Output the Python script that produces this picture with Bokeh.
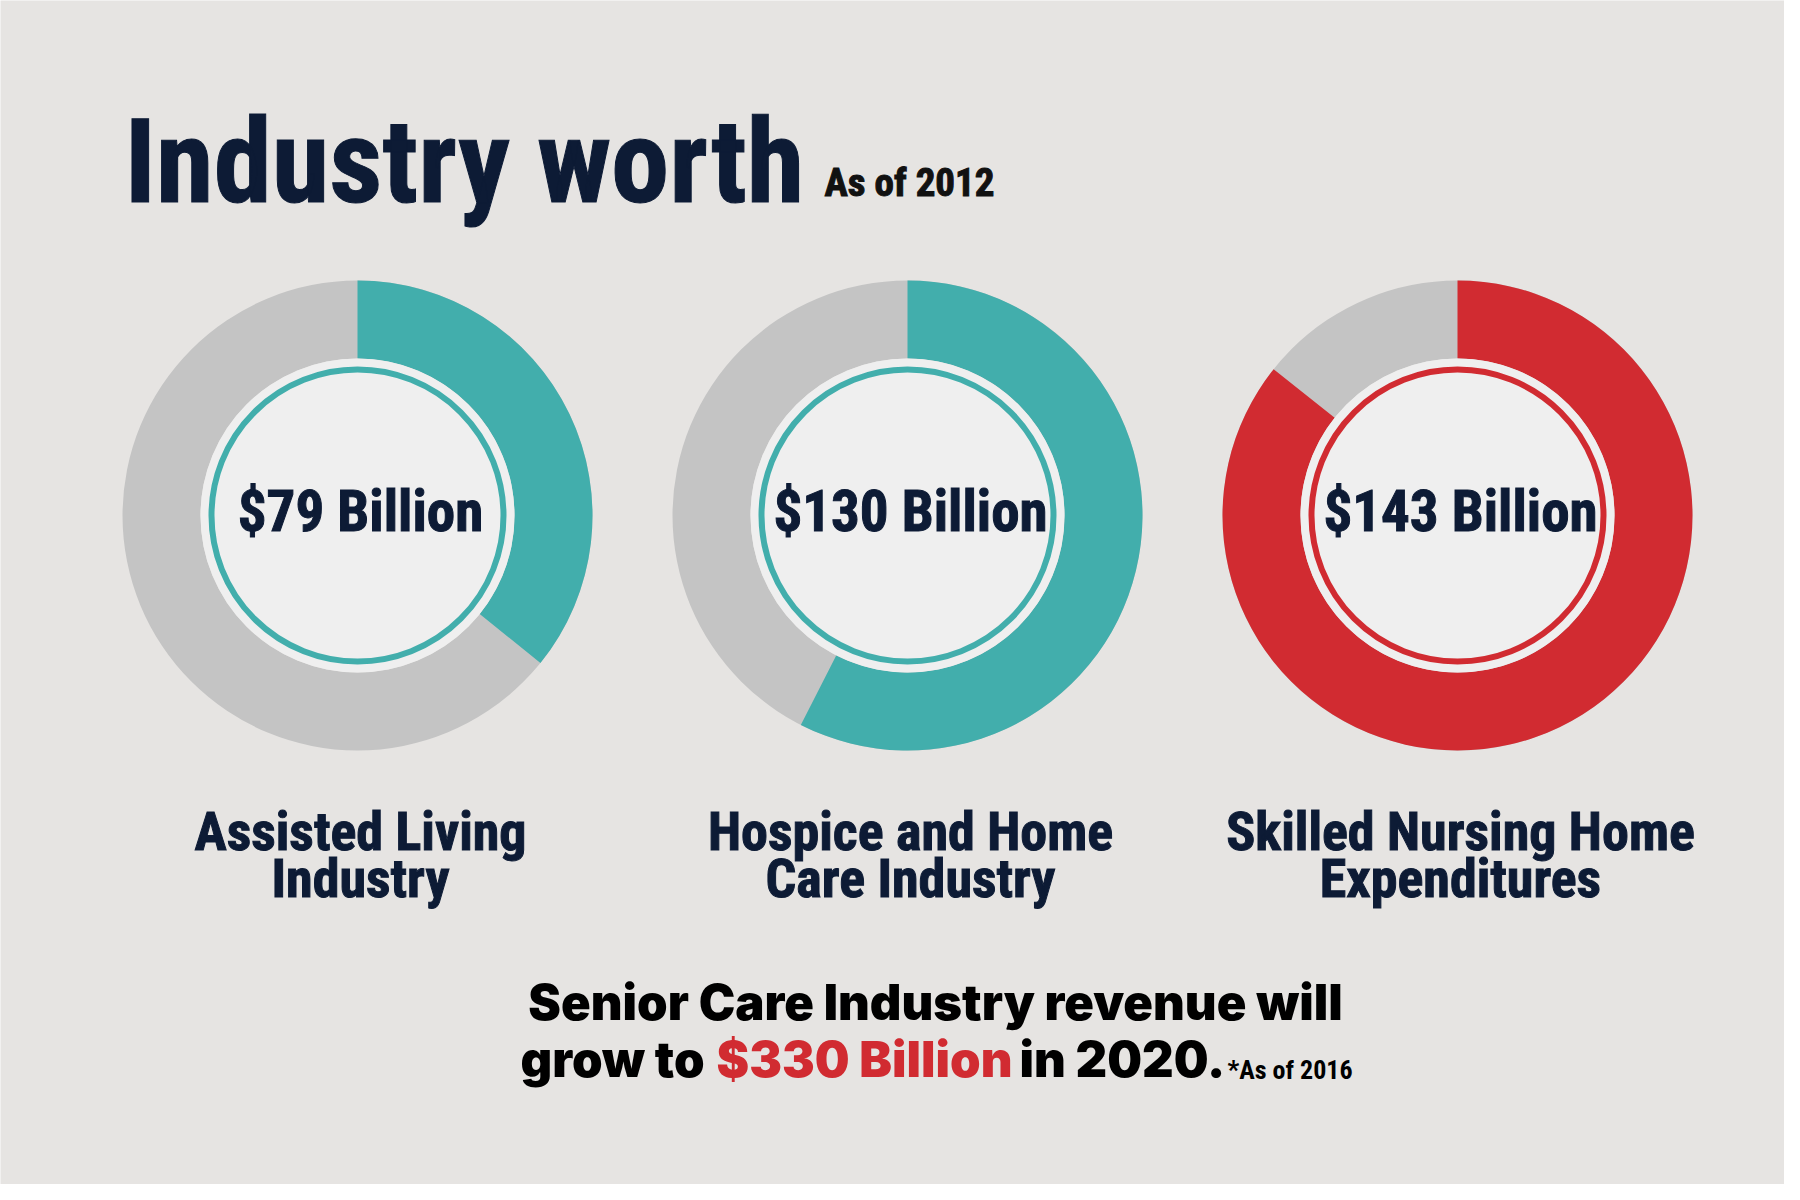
import math
from bokeh.plotting import figure
from bokeh.models import Range1d, ColumnDataSource
from bokeh.core.properties import value
from bokeh.embed import file_html
from bokeh.resources import INLINE

# ---------------- data ----------------
title = "Industry worth"
subtitle = "As of 2012"
amounts = ["$79 Billion", "$130 Billion", "$143 Billion"]
shares = [0.358, 0.575, 0.857]          # filled fraction of each ring
line1 = ["Assisted Living", "Hospice and Home", "Skilled Nursing Home"]
line2 = ["Industry", "Care Industry", "Expenditures"]
ring_colors = ["#42AEAC", "#42AEAC", "#D12B31"]
footer1 = "Senior Care Industry revenue will"
footer2 = ["grow to", "$330 Billion", "in 2020."]
footer2_colors = ["#000000", "#D12B31", "#000000"]
footnote = "*As of 2016"

# ---------------- styling ----------------
BG = "#E6E4E2"
GRAY = "#C4C4C4"
DISK = "#EFEFEF"
NAVY = "#0D1B35"
COND = value("Roboto Condensed")
HEAVY = value("Inter Black")

W, H = 1784, 1184
p = figure(width=W, height=H, output_backend="svg", toolbar_location=None,
           x_range=Range1d(0, W), y_range=Range1d(1200 - H, 1200),
           min_border=0, background_fill_color=BG, border_fill_color=BG)
p.axis.visible = False
p.grid.visible = False
p.outline_line_color = None


def Y(yref):
    return 1200 - yref


# ---------------- donuts ----------------
cx = [357 + 550 * i for i in range(3)]
cy = [Y(515)] * 3
src = ColumnDataSource(dict(
    x=cx, y=cy, color=ring_colors,
    start=[math.pi / 2] * 3,
    end=[math.pi / 2 - 2 * math.pi * s for s in shares],
    amount=amounts, l1=line1, l2=line2,
    tx=[c + 3 for c in cx],
))

p.annulus(x="x", y="y", inner_radius=157, outer_radius=235, source=src,
          fill_color=GRAY, line_color=None)
p.annular_wedge(x="x", y="y", inner_radius=157, outer_radius=235,
                start_angle="start", end_angle="end", direction="clock",
                source=src, fill_color="color", line_color=None)
p.circle(x="x", y="y", radius=157, source=src, fill_color=DISK, line_color=None)
p.circle(x="x", y="y", radius=146, source=src, fill_color=None,
         line_color="color", line_width=6)

p.text(x="tx", y=Y(511), text="amount", source=src, text_font=COND,
       text_font_style="bold", text_font_size="57px", text_color=NAVY,
       text_outline_color=NAVY,
       text_align="center", text_baseline="alphabetic")

p.text(x="tx", y=Y(831), text="l1", source=src, text_font=COND,
       text_font_style="bold", text_font_size="54px", text_color=NAVY,
       text_outline_color=NAVY,
       text_align="center", text_baseline="alphabetic")
p.text(x="tx", y=Y(878), text="l2", source=src, text_font=COND,
       text_font_style="bold", text_font_size="54px", text_color=NAVY,
       text_outline_color=NAVY,
       text_align="center", text_baseline="alphabetic")

# ---------------- title ----------------
p.text(x=[124], y=[Y(161)], text=[title], text_font=COND,
       text_font_style="bold", text_font_size="117px", text_color=NAVY,
       text_outline_color=NAVY, text_baseline="alphabetic")
p.text(x=[824], y=[Y(182)], text=[subtitle], text_font=COND,
       text_font_style="bold", text_font_size="39px", text_color="#111111",
       text_outline_color="#111111", text_baseline="alphabetic")

# ---------------- footer ----------------
p.text(x=[935], y=[Y(1002)], text=[footer1], text_font=HEAVY,
       text_font_style="bold", text_font_size="49px", text_color="#000000",
       text_align="center", text_baseline="alphabetic")
starts = [520, 716, 1019]
p.text(x=starts, y=[Y(1059)] * 3, text=footer2, text_font=HEAVY,
       text_font_style="bold", text_font_size="49px", text_color=footer2_colors,
       text_baseline="alphabetic")
p.text(x=[1227], y=[Y(1069)], text=[footnote], text_font=COND,
       text_font_style="bold", text_font_size="26px", text_color="#000000",
       text_baseline="alphabetic")

open("out.html", "w").write(file_html(p, INLINE))
